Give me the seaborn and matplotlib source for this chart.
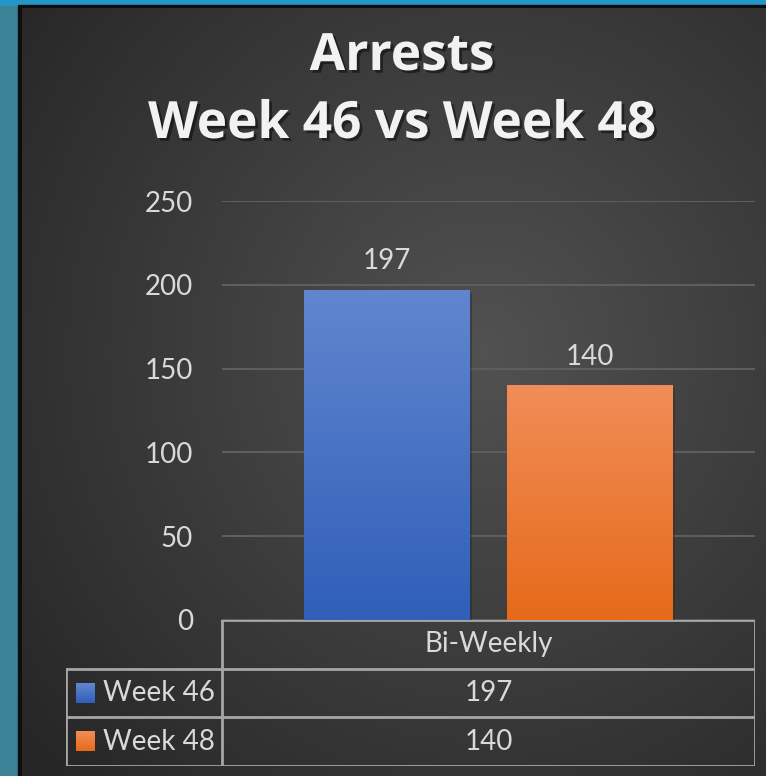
import numpy as np
import pandas as pd
import matplotlib
matplotlib.use("Agg")
import matplotlib.pyplot as plt
import matplotlib.patheffects as pe
from matplotlib.patches import Rectangle
import seaborn as sns

# ---- data ----
category = ["Bi-Weekly"]
series = ["Week 46", "Week 48"]
values = [197, 140]
title_lines = ["Arrests", "Week 46 vs Week 48"]
yticks = [0, 50, 100, 150, 200, 250]

# (top, bottom) colours for the gradient bars
bar_colors = {"Week 46": ("#6186ce", "#2f5fb9"), "Week 48": ("#f18d58", "#e66a19")}

W, H = 766, 776
TXT = "#d9d9d9"

sns.set_theme(style="dark")
plt.rcParams["font.family"] = ["Lato", "DejaVu Sans"]

fig = plt.figure(figsize=(W / 100, H / 100), dpi=100, facecolor="#3b8296")


def fx(px):
    return px / W


def fy(py):
    return 1 - py / H


# ---- frame: teal outer strip, black border, radial-gradient panel ----
fig.patches.append(Rectangle((0, fy(5)), 1, 1, transform=fig.transFigure,
                             color="#2596c8", zorder=-3))
fig.patches.append(Rectangle((fx(18), 0), 1, fy(5), transform=fig.transFigure,
                             color="#0d0d0d", zorder=-2))
bg = fig.add_axes([fx(22), 0, 1 - fx(22), fy(8)], zorder=-1)
gx, gy = np.meshgrid(np.linspace(0, 1, 400), np.linspace(0, 1, 400))
r = np.sqrt(((gx - 0.62) / 0.75) ** 2 + ((gy - 0.55) / 0.75) ** 2)
shade = np.clip(0.32 - 0.16 * r, 0.15, 0.32)
bg.imshow(np.dstack([shade] * 3), extent=[0, 1, 0, 1], aspect="auto", origin="lower")
bg.set_axis_off()

# ---- title ----
shadow = [pe.SimplePatchShadow(offset=(2, -2), shadow_rgbFace="black", alpha=0.45), pe.Normal()]
for line, ypx in zip(title_lines, [57, 125]):
    fig.text(fx(402), fy(ypx), line, ha="center", va="center", color="#f2f2f2",
             fontsize=37, fontweight="bold", family=["Open Sans", "DejaVu Sans"],
             path_effects=shadow)

# ---- bars ----
df = pd.DataFrame({"category": category * len(series), "series": series, "value": values})
ax = fig.add_axes([fx(222), fy(620), fx(755) - fx(222), fy(201) - fy(620)])
ax.set_facecolor("none")
sns.barplot(data=df, x="category", y="value", hue="series", hue_order=series,
            palette={s: bar_colors[s][1] for s in series}, width=0.762, gap=0.187,
            linewidth=0, legend=False, ax=ax)

grad = np.linspace(0, 1, 256).reshape(-1, 1)
for patch, s in zip(ax.patches, series):
    top, bottom = bar_colors[s]
    cmap = matplotlib.colors.LinearSegmentedColormap.from_list(s, [bottom, top])
    x0, y0 = patch.get_x(), patch.get_y()
    w, h = patch.get_width(), patch.get_height()
    patch.set_path_effects([pe.SimplePatchShadow(offset=(2, -2), alpha=0.35), pe.Normal()])
    im = ax.imshow(grad, extent=[x0, x0 + w, y0, y0 + h], origin="lower", cmap=cmap,
                   aspect="auto", zorder=3)
    im.set_clip_path(patch)
    ax.text(x0 + w / 2, h + 17, f"{h:.0f}", ha="center", va="center", color=TXT,
            fontsize=20)

ax.set_xlim(-0.5, 0.5)
ax.set_ylim(0, 250)
ax.set_yticks(yticks)
ax.yaxis.grid(True, color="#5e5e5e", linewidth=1.5)
ax.set_axisbelow(True)
ax.tick_params(axis="y", colors=TXT, labelsize=20, length=0, pad=21)
ax.set_xticks([])
ax.set_xlabel("")
ax.set_ylabel("")
for sp in ax.spines.values():
    sp.set_visible(False)

# ---- data table under the plot ----
tb = fig.add_axes([fx(66), fy(766), fx(755) - fx(66), fy(620) - fy(766)])
tb.set_facecolor("none")
tb.set_axis_off()
x_lab, x_val, x_end = 0, 156, 689
rows = len(series) + 1
lc = dict(color="#a6a6a6", linewidth=2, solid_capstyle="projecting")
tb.plot([x_val, x_end], [0, 0], **lc)
for i in range(1, rows + 1):
    tb.plot([x_lab, x_end], [i, i], **lc)
tb.plot([x_lab, x_lab], [1, rows], **lc)
tb.plot([x_val, x_val], [0, rows], **lc)
tb.plot([x_end, x_end], [0, rows], **lc)

mid = (x_val + x_end) / 2
tb.text(mid, 0.5, category[0], ha="center", va="center", color=TXT, fontsize=20)
for i, (s, v) in enumerate(zip(series, values), start=1):
    top, bottom = bar_colors[s]
    cmap = matplotlib.colors.LinearSegmentedColormap.from_list(s, [bottom, top])
    tb.imshow(grad, extent=[10, 29, i + 0.7, i + 0.3], origin="lower", cmap=cmap,
              aspect="auto", zorder=3)
    tb.text(37, i + 0.5, s, ha="left", va="center", color=TXT, fontsize=20)
    tb.text(mid, i + 0.5, f"{v}", ha="center", va="center", color=TXT, fontsize=20)
tb.set_xlim(0, x_end)
tb.set_ylim(rows, 0)

fig.savefig("out.png", dpi=100, facecolor=fig.get_facecolor())
